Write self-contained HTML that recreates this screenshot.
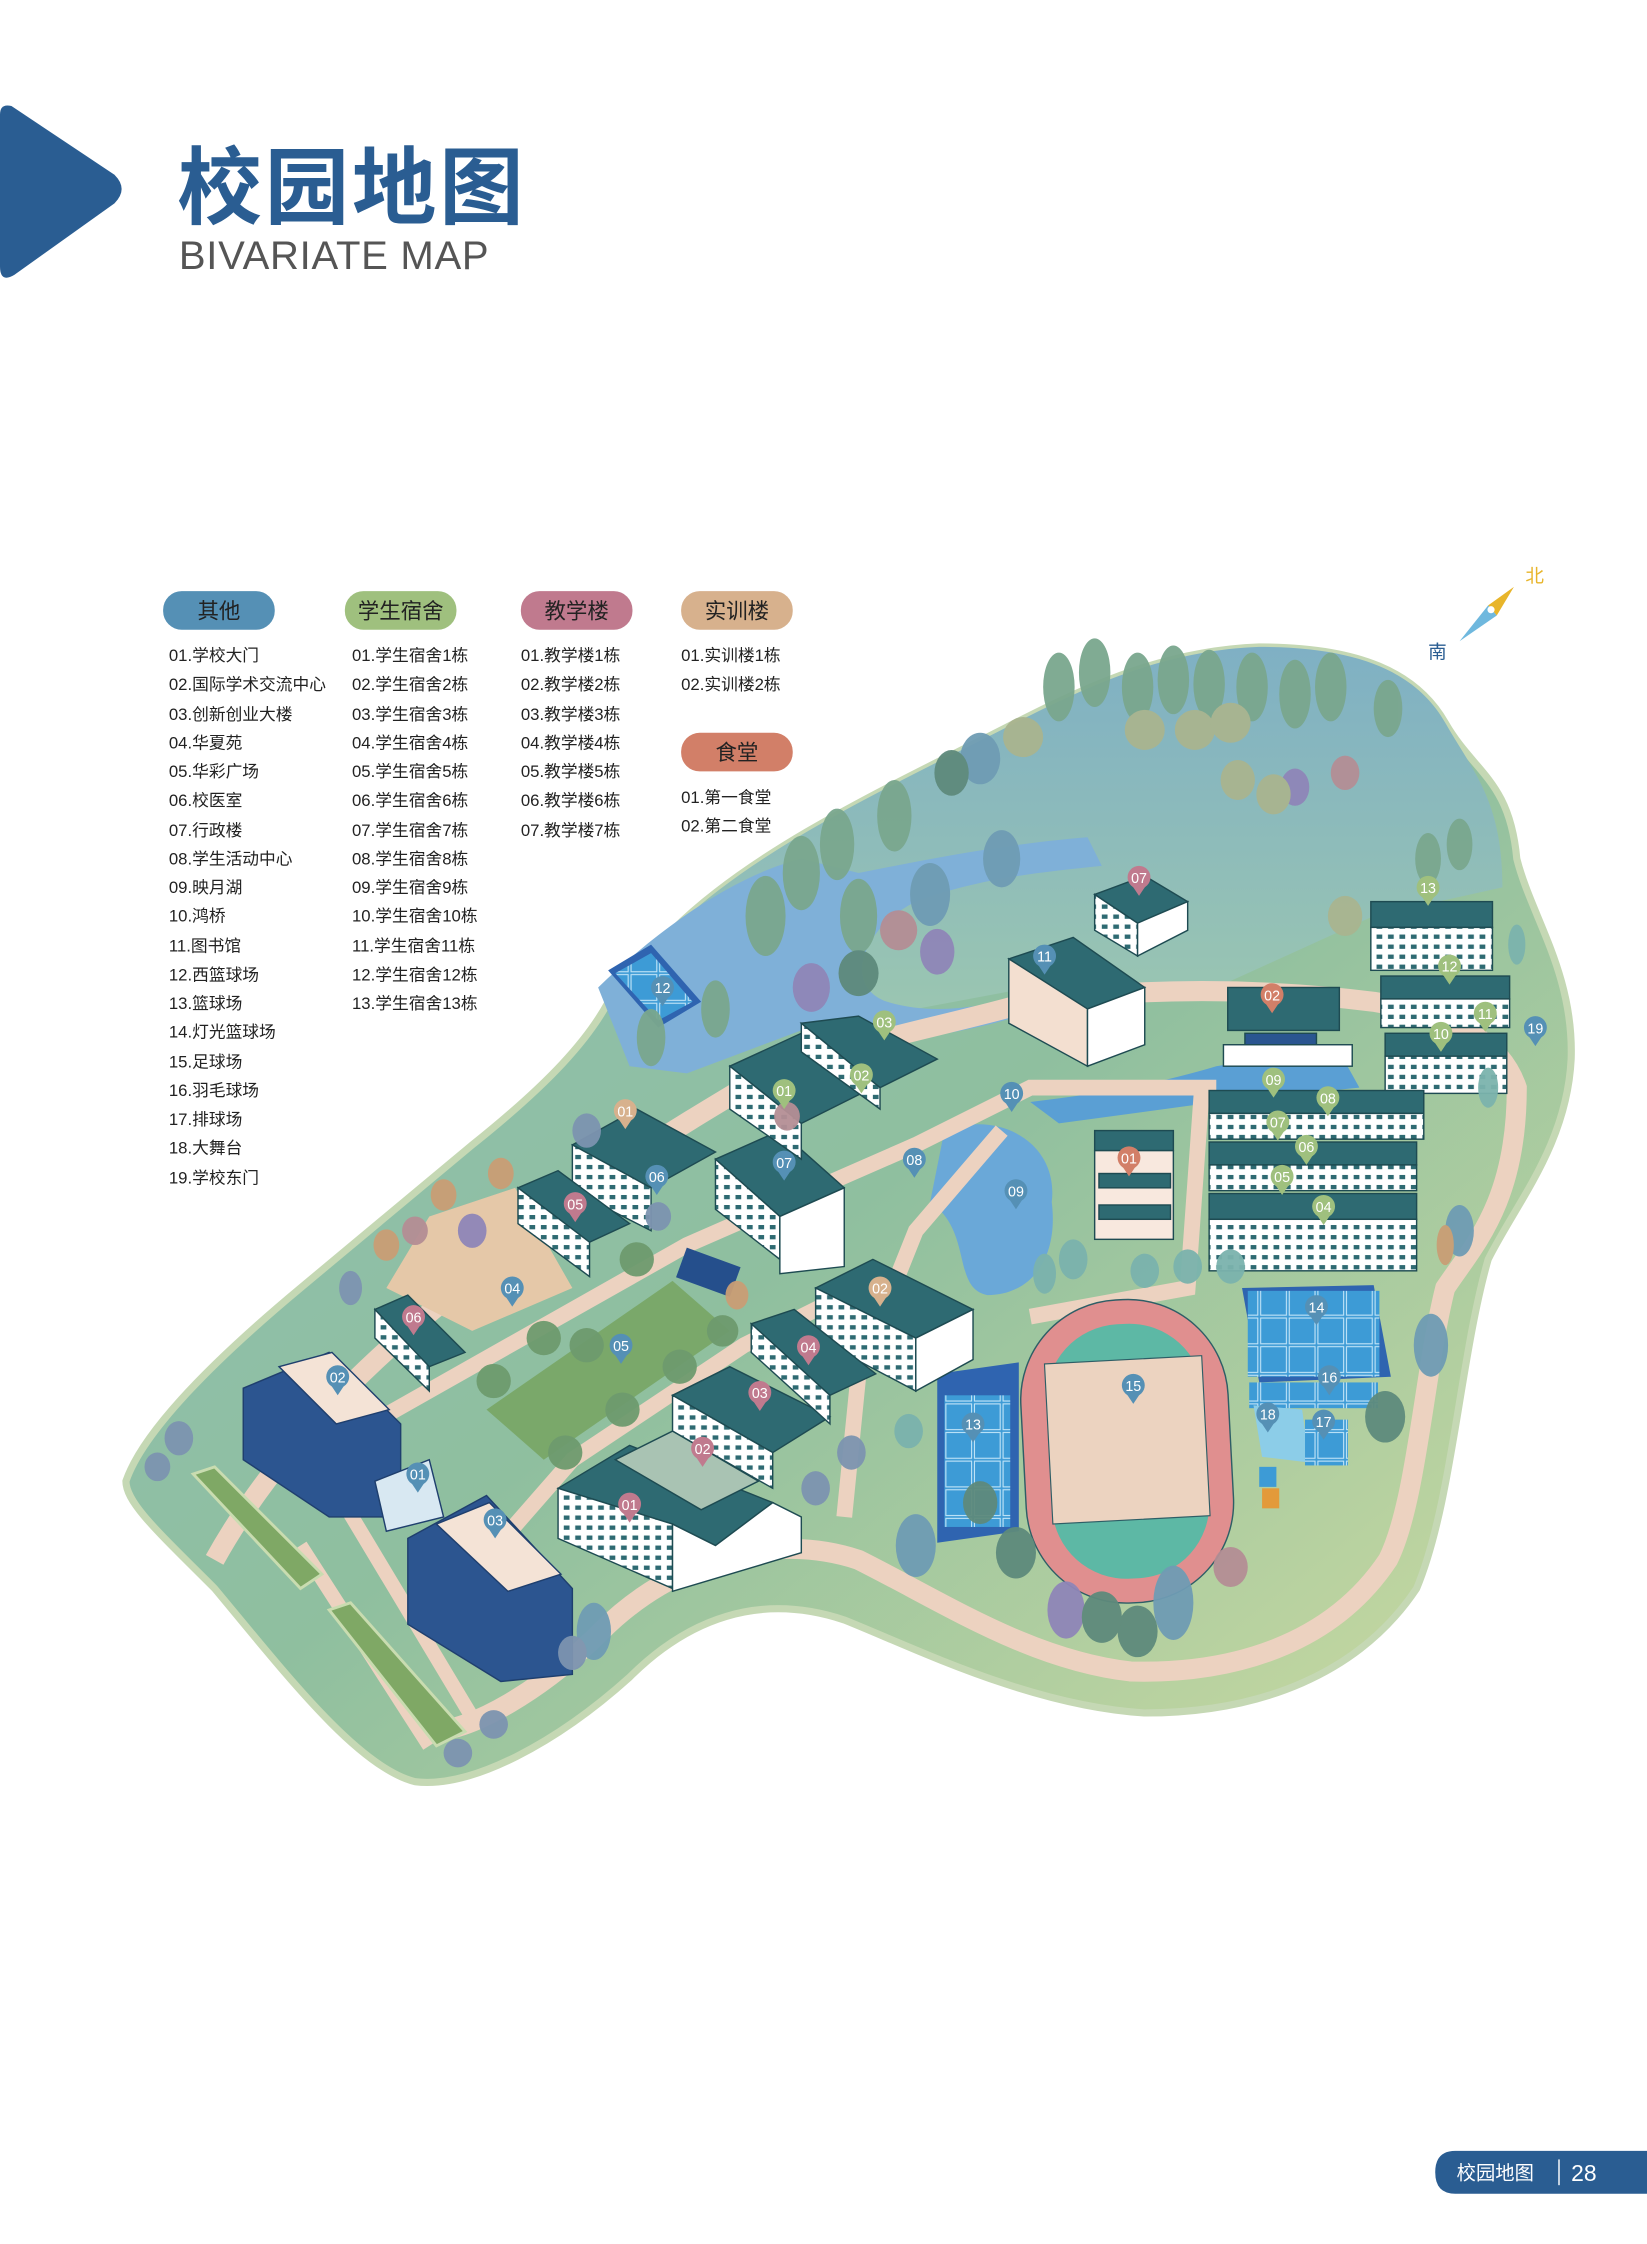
<!DOCTYPE html>
<html><head><meta charset="utf-8"><style>
html,body{margin:0;padding:0;background:#fff;}
svg{display:block}
text{font-family:"Liberation Sans","Noto Sans CJK SC",sans-serif;}
</style></head><body>
<svg width="1647" height="2244" viewBox="0 0 1151 1568" xmlns="http://www.w3.org/2000/svg">
<defs>
<linearGradient id="land" x1="0" y1="0" x2="1" y2="1">
<stop offset="0" stop-color="#8fbfb6"/><stop offset="0.5" stop-color="#8fbf9f"/><stop offset="1" stop-color="#cfdca0"/></linearGradient>
<linearGradient id="land2" x1="0" y1="0" x2="0" y2="1">
<stop offset="0" stop-color="#7fb0c4"/><stop offset="1" stop-color="#9cc7b0"/></linearGradient>
<pattern id="win" width="8" height="7" patternUnits="userSpaceOnUse"><rect width="8" height="7" fill="#fff"/><rect x="2" y="2" width="4" height="3" fill="#2e6a72"/></pattern>
<pattern id="court" width="20" height="20" patternUnits="userSpaceOnUse"><rect width="20" height="20" fill="#3d9bd6"/><rect x="1" y="1" width="18" height="18" fill="none" stroke="#bfe3f7" stroke-width="0.8"/></pattern>
</defs>
<!-- title -->
<path d="M0,80 Q0,72 8,74 L80,122 Q90,132 80,142 L10,192 Q0,198 0,186 Z" fill="#2a5d92"/>
<text x="124" y="152" font-size="59" font-weight="bold" fill="#2a5d92" font-family="'Noto Sans CJK SC',sans-serif" letter-spacing="2">校园地图</text>
<text x="125" y="188" font-size="28" fill="#555" letter-spacing="0.5">BIVARIATE MAP</text>

<!-- legend pills -->
<g font-size="15" text-anchor="middle" fill="#222">
<rect x="114" y="413" width="78" height="27" rx="13" fill="#5590b5"/><text x="153" y="432">其他</text>
<rect x="241" y="413" width="78" height="27" rx="13" fill="#9fc07e"/><text x="280" y="432">学生宿舍</text>
<rect x="364" y="413" width="78" height="27" rx="13" fill="#c07a8e"/><text x="403" y="432">教学楼</text>
<rect x="476" y="413" width="78" height="27" rx="13" fill="#d7b18d"/><text x="515" y="432">实训楼</text>
<rect x="476" y="512" width="78" height="27" rx="13" fill="#d27f68"/><text x="515" y="531">食堂</text>
</g>
<g font-size="11.7" fill="#222">
<text x="118" y="462">01.学校大门</text><text x="118" y="482">02.国际学术交流中心</text><text x="118" y="503">03.创新创业大楼</text><text x="118" y="523">04.华夏苑</text><text x="118" y="543">05.华彩广场</text><text x="118" y="563">06.校医室</text><text x="118" y="584">07.行政楼</text><text x="118" y="604">08.学生活动中心</text><text x="118" y="624">09.映月湖</text><text x="118" y="644">10.鸿桥</text><text x="118" y="665">11.图书馆</text><text x="118" y="685">12.西篮球场</text><text x="118" y="705">13.篮球场</text><text x="118" y="725">14.灯光篮球场</text><text x="118" y="746">15.足球场</text><text x="118" y="766">16.羽毛球场</text><text x="118" y="786">17.排球场</text><text x="118" y="806">18.大舞台</text><text x="118" y="827">19.学校东门</text>
<text x="246" y="462">01.学生宿舍1栋</text><text x="246" y="482">02.学生宿舍2栋</text><text x="246" y="503">03.学生宿舍3栋</text><text x="246" y="523">04.学生宿舍4栋</text><text x="246" y="543">05.学生宿舍5栋</text><text x="246" y="563">06.学生宿舍6栋</text><text x="246" y="584">07.学生宿舍7栋</text><text x="246" y="604">08.学生宿舍8栋</text><text x="246" y="624">09.学生宿舍9栋</text><text x="246" y="644">10.学生宿舍10栋</text><text x="246" y="665">11.学生宿舍11栋</text><text x="246" y="685">12.学生宿舍12栋</text><text x="246" y="705">13.学生宿舍13栋</text>
<text x="364" y="462">01.教学楼1栋</text><text x="364" y="482">02.教学楼2栋</text><text x="364" y="503">03.教学楼3栋</text><text x="364" y="523">04.教学楼4栋</text><text x="364" y="543">05.教学楼5栋</text><text x="364" y="563">06.教学楼6栋</text><text x="364" y="584">07.教学楼7栋</text>
<text x="476" y="462">01.实训楼1栋</text><text x="476" y="482">02.实训楼2栋</text>
<text x="476" y="561">01.第一食堂</text><text x="476" y="581">02.第二食堂</text>
</g>

<!-- compass -->
<polygon points="1058,410 1040,423 1046,430" fill="#e8b52a"/>
<polygon points="1040,423 1046,430 1020,448" fill="#6fb8de"/>
<circle cx="1042" cy="426" r="2.5" fill="#fff"/>
<text x="1066" y="407" font-size="13" fill="#e8b52a">北</text>
<text x="998" y="460" font-size="13" fill="#2a5d92">南</text>

<!-- land -->
<path d="M88,1035 C100,1000 150,950 210,900 L330,800 C380,760 415,725 430,690 L470,650 C520,600 600,560 680,520 C740,490 800,455 880,452 C950,452 990,470 1010,505 C1030,540 1055,545 1060,600 C1070,640 1100,680 1098,740 C1095,800 1060,840 1040,880 C1020,950 1015,1050 990,1110 C950,1170 880,1197 800,1197 C720,1192 640,1152 590,1132 C530,1112 480,1132 440,1172 C390,1217 330,1250 290,1245 C250,1235 200,1170 150,1110 C110,1070 88,1050 88,1035 Z" fill="url(#land)" stroke="#c5d8b4" stroke-width="5"/>
<!-- forest area -->
<path d="M430,690 L470,650 C520,600 600,560 680,520 C740,490 800,455 880,452 C950,452 990,470 1010,505 C1030,540 1050,560 1050,620 L960,640 L850,690 L720,690 L560,720 Z" fill="url(#land2)"/>
<!-- water -->
<path d="M418,690 C470,640 520,610 560,600 L600,610 C650,600 700,590 760,585 L770,605 C720,610 680,615 640,630 C600,650 590,690 620,700 C660,712 700,700 740,690 L740,700 C690,720 620,735 560,720 L480,750 L440,745 Z" fill="#7fb0d8"/>
<path d="M720,770 C760,765 800,760 850,745 L880,740 L940,742 L950,760 L850,770 L740,785 Z" fill="#5a9fd4"/>
<path d="M660,790 C700,775 740,800 735,840 C740,880 720,905 690,905 C665,900 680,860 650,840 Z" fill="#6aa8d8"/>
<!-- roads -->
<path d="M150,1090 C200,1000 280,930 360,870 C420,820 470,790 520,760 C580,730 650,720 720,700 C800,690 880,690 960,700 C1020,710 1050,730 1060,760 C1060,840 1030,870 1010,900 C995,960 990,1050 970,1090 C930,1150 860,1170 790,1168 C720,1160 660,1120 600,1090 C540,1070 470,1090 420,1140 C380,1180 330,1210 300,1210" fill="none" stroke="#ecd2c0" stroke-width="14"/>
<path d="M250,1000 L480,870 L640,800 L720,760 L850,760 M700,790 L640,860 L600,960 L590,1060 M840,760 L830,900 L720,920 M330,1100 L400,1020 L520,940 L600,900" fill="none" stroke="#ecd2c0" stroke-width="11"/>
<path d="M210,1080 L300,1220 M240,1050 L330,1200" stroke="#ecd2c0" stroke-width="10"/>
<polygon points="135,1030 150,1025 225,1100 210,1110" fill="#7fa865" stroke="#c9dcb0" stroke-width="2"/>
<polygon points="230,1125 245,1120 325,1210 305,1220" fill="#7fa865" stroke="#c9dcb0" stroke-width="2"/>
<!-- plaza green -->
<polygon points="340,985 470,895 510,930 380,1020" fill="#7aa86a"/>
<polygon points="300,850 360,830 400,900 330,930 270,900" fill="#e5c8a8"/>

<!-- track -->
<g transform="rotate(-3 790 1010)">
<rect x="715" y="908" width="145" height="212" rx="70" fill="#e08f8f" stroke="#2e5e66" stroke-width="1"/>
<rect x="733" y="925" width="110" height="178" rx="52" fill="#5db8a5"/>
<rect x="733" y="950" width="110" height="112" fill="#ecd3c0" stroke="#2e5e66" stroke-width="0.8"/>
</g>
<!-- courts -->
<polygon points="655,960 712,952 712,1070 655,1078" fill="#2f64b0"/>
<rect x="660" y="975" width="46" height="92" fill="url(#court)"/>
<polygon points="868,900 960,898 972,962 880,966" fill="#2f64b0"/>
<rect x="872" y="902" width="92" height="60" fill="url(#court)"/>
<rect x="873" y="966" width="90" height="18" fill="url(#court)"/>
<polygon points="876,982 910,985 915,1022 882,1018" fill="#8ccde8"/>
<rect x="912" y="992" width="30" height="32" fill="url(#court)"/>
<rect x="880" y="1025" width="12" height="14" fill="#3d9bd6"/><rect x="882" y="1040" width="12" height="14" fill="#e39a3a"/>
<polygon points="425,678 455,660 490,700 460,718" fill="#2f64b0"/><polygon points="430,680 455,666 484,700 460,713" fill="url(#court)"/>
<rect x="475" y="878" width="40" height="22" fill="#254f8c" transform="rotate(20 495 889)"/>

<!-- buildings: big blue left -->
<g stroke="#1f3f6e" stroke-width="1">
<polygon points="170,970 230,945 280,995 280,1060 230,1060 170,1020" fill="#2c5590"/>
<polygon points="195,955 232,945 272,985 235,995" fill="#f4e3d6"/>
<polygon points="285,1075 340,1045 400,1110 400,1170 350,1175 285,1135" fill="#2c5590"/>
<polygon points="305,1065 342,1050 392,1100 355,1112" fill="#f4e3d6"/>
<polygon points="262,1035 300,1020 310,1060 270,1070" fill="#d8e8f2"/>
</g>
<!-- generic teal buildings -->
<g stroke="#1e4b52" stroke-width="1">
<polygon points="705,670 750,655 800,690 760,705" fill="#2e6a72"/>
<polygon points="705,670 760,705 760,745 705,715" fill="#f3dfd0"/>
<polygon points="760,705 800,690 800,730 760,745" fill="#fff"/>
<polygon points="765,625 800,612 830,630 795,645" fill="#2e6a72"/>
<polygon points="765,625 795,645 795,668 765,650" fill="url(#win)"/>
<polygon points="795,645 830,630 830,650 795,668" fill="#fff"/>
<rect x="958" y="630" width="85" height="18" fill="#2e6a72"/><rect x="958" y="648" width="85" height="30" fill="url(#win)"/>
<rect x="965" y="682" width="90" height="16" fill="#2e6a72"/><rect x="965" y="698" width="90" height="20" fill="url(#win)"/>
<rect x="968" y="722" width="85" height="16" fill="#2e6a72"/><rect x="968" y="738" width="85" height="26" fill="url(#win)"/>
<rect x="858" y="690" width="78" height="30" fill="#2e6a72"/><rect x="870" y="722" width="50" height="8" fill="#2a5590"/><rect x="855" y="730" width="90" height="15" fill="#fff"/>
<rect x="845" y="762" width="150" height="16" fill="#2e6a72"/><rect x="845" y="778" width="150" height="18" fill="url(#win)"/>
<rect x="845" y="798" width="145" height="16" fill="#2e6a72"/><rect x="845" y="814" width="145" height="18" fill="url(#win)"/>
<rect x="845" y="834" width="145" height="18" fill="#2e6a72"/><rect x="845" y="852" width="145" height="36" fill="url(#win)"/>
<rect x="765" y="790" width="55" height="14" fill="#2e6a72"/><rect x="765" y="804" width="55" height="62" fill="#f8e8de"/><rect x="768" y="820" width="50" height="10" fill="#2e6a72"/><rect x="768" y="842" width="50" height="10" fill="#2e6a72"/>
<polygon points="400,800 445,775 500,805 455,830" fill="#2e6a72"/>
<polygon points="400,800 455,830 455,860 400,832" fill="url(#win)"/>
<polygon points="500,810 545,790 590,830 545,850" fill="#2e6a72"/>
<polygon points="500,810 545,850 545,880 500,845" fill="url(#win)"/>
<polygon points="545,850 590,830 590,885 545,890" fill="#fff"/>
<polygon points="510,745 560,722 610,760 560,785" fill="#2e6a72"/>
<polygon points="510,745 560,785 560,810 510,775" fill="url(#win)"/>
<polygon points="560,715 600,710 655,740 615,760" fill="#2e6a72"/>
<polygon points="560,715 615,760 615,775 560,735" fill="url(#win)"/>
<polygon points="362,830 390,818 440,855 412,868" fill="#2e6a72"/>
<polygon points="362,830 412,868 412,892 362,855" fill="url(#win)"/>
<polygon points="262,915 285,905 325,945 300,955" fill="#2e6a72"/><polygon points="262,915 300,955 300,972 262,935" fill="url(#win)"/>
<polygon points="570,900 610,880 680,915 640,935" fill="#2e6a72"/>
<polygon points="570,900 640,935 640,972 570,935" fill="url(#win)"/>
<polygon points="640,935 680,915 680,950 640,972" fill="#fff"/>
<polygon points="390,1040 440,1010 540,1050 500,1080 470,1065" fill="#2e6a72"/>
<polygon points="390,1040 470,1065 470,1110 390,1075" fill="url(#win)"/>
<polygon points="470,1065 500,1080 540,1050 560,1060 560,1085 470,1112" fill="#fff"/>
<polygon points="470,975 510,955 580,990 540,1015" fill="#2e6a72"/>
<polygon points="470,975 540,1015 540,1040 470,1000" fill="url(#win)"/>
<polygon points="525,925 555,915 612,960 580,975" fill="#2e6a72"/>
<polygon points="525,925 580,975 580,995 525,945" fill="url(#win)"/>
<polygon points="430,1020 470,1000 530,1035 490,1055" fill="#a9c3b3"/>
</g>
<!-- trees -->
<g opacity="0.95">
<g fill="#7aa78e"><ellipse cx="535" cy="640" rx="14" ry="28"/><ellipse cx="560" cy="610" rx="13" ry="26"/><ellipse cx="600" cy="640" rx="13" ry="26"/><ellipse cx="585" cy="590" rx="12" ry="25"/><ellipse cx="625" cy="570" rx="12" ry="25"/><ellipse cx="740" cy="480" rx="11" ry="24"/><ellipse cx="765" cy="470" rx="11" ry="24"/><ellipse cx="795" cy="480" rx="11" ry="24"/><ellipse cx="820" cy="475" rx="11" ry="24"/><ellipse cx="845" cy="478" rx="11" ry="24"/><ellipse cx="875" cy="480" rx="11" ry="24"/><ellipse cx="905" cy="485" rx="11" ry="24"/><ellipse cx="930" cy="480" rx="11" ry="24"/><ellipse cx="500" cy="705" rx="10" ry="20"/><ellipse cx="455" cy="725" rx="10" ry="20"/><ellipse cx="970" cy="495" rx="10" ry="20"/><ellipse cx="998" cy="600" rx="9" ry="18"/><ellipse cx="1020" cy="590" rx="9" ry="18"/></g>
<g fill="#6f9cb4"><ellipse cx="650" cy="625" rx="14" ry="22"/><ellipse cx="700" cy="600" rx="13" ry="20"/><ellipse cx="685" cy="530" rx="14" ry="18"/><ellipse cx="640" cy="1080" rx="14" ry="22"/><ellipse cx="820" cy="1120" rx="14" ry="26"/><ellipse cx="415" cy="1140" rx="12" ry="20"/><ellipse cx="1000" cy="940" rx="12" ry="22"/><ellipse cx="1020" cy="860" rx="10" ry="18"/></g>
<g fill="#8f86b8"><ellipse cx="567" cy="690" rx="13" ry="17"/><ellipse cx="655" cy="665" rx="12" ry="16"/><ellipse cx="745" cy="1125" rx="13" ry="20"/><ellipse cx="905" cy="550" rx="10" ry="13"/><ellipse cx="330" cy="860" rx="10" ry="12"/></g>
<g fill="#b48e95"><ellipse cx="628" cy="650" rx="13" ry="14"/><ellipse cx="940" cy="540" rx="10" ry="12"/><ellipse cx="860" cy="1095" rx="12" ry="14"/><ellipse cx="550" cy="780" rx="9" ry="10"/><ellipse cx="290" cy="860" rx="9" ry="10"/></g>
<g fill="#5e8a7c"><ellipse cx="600" cy="680" rx="14" ry="16"/><ellipse cx="665" cy="540" rx="12" ry="16"/><ellipse cx="710" cy="1085" rx="14" ry="18"/><ellipse cx="795" cy="1140" rx="14" ry="18"/><ellipse cx="770" cy="1130" rx="14" ry="18"/><ellipse cx="968" cy="990" rx="14" ry="18"/><ellipse cx="685" cy="1050" rx="12" ry="15"/></g>
<g fill="#a9b48f"><ellipse cx="715" cy="515" rx="14" ry="14"/><ellipse cx="800" cy="510" rx="14" ry="14"/><ellipse cx="835" cy="510" rx="14" ry="14"/><ellipse cx="860" cy="505" rx="14" ry="14"/><ellipse cx="890" cy="555" rx="12" ry="14"/><ellipse cx="865" cy="545" rx="12" ry="14"/><ellipse cx="940" cy="640" rx="12" ry="14"/></g>
<g fill="#c99e75"><ellipse cx="310" cy="835" rx="9" ry="11"/><ellipse cx="270" cy="870" rx="9" ry="11"/><ellipse cx="350" cy="820" rx="9" ry="11"/><ellipse cx="1010" cy="870" rx="6" ry="14"/><ellipse cx="515" cy="905" rx="8" ry="10"/></g>
<g fill="#6e9b6e"><ellipse cx="410" cy="940" rx="12" ry="12"/><ellipse cx="380" cy="935" rx="12" ry="12"/><ellipse cx="345" cy="965" rx="12" ry="12"/><ellipse cx="445" cy="880" rx="12" ry="12"/><ellipse cx="475" cy="955" rx="12" ry="12"/><ellipse cx="435" cy="985" rx="12" ry="12"/><ellipse cx="395" cy="1015" rx="12" ry="12"/><ellipse cx="505" cy="930" rx="11" ry="11"/></g>
<g fill="#7d94b0"><ellipse cx="125" cy="1005" rx="10" ry="12"/><ellipse cx="110" cy="1025" rx="9" ry="10"/><ellipse cx="320" cy="1225" rx="10" ry="10"/><ellipse cx="345" cy="1205" rx="10" ry="10"/><ellipse cx="400" cy="1155" rx="10" ry="12"/><ellipse cx="570" cy="1040" rx="10" ry="12"/><ellipse cx="595" cy="1015" rx="10" ry="12"/><ellipse cx="410" cy="790" rx="10" ry="12"/><ellipse cx="460" cy="850" rx="9" ry="10"/><ellipse cx="245" cy="900" rx="8" ry="12"/></g>
<g fill="#7bb3ad"><ellipse cx="830" cy="885" rx="10" ry="12"/><ellipse cx="800" cy="888" rx="10" ry="12"/><ellipse cx="860" cy="885" rx="10" ry="12"/><ellipse cx="750" cy="880" rx="10" ry="14"/><ellipse cx="730" cy="890" rx="8" ry="14"/><ellipse cx="635" cy="1000" rx="10" ry="12"/><ellipse cx="1060" cy="660" rx="6" ry="14"/><ellipse cx="1040" cy="760" rx="7" ry="14"/></g>
</g>

<!-- markers -->
<g font-family="'Liberation Serif',serif" font-size="10" text-anchor="middle">
<g fill="#5590b5">
<circle cx="463" cy="690" r="8"/><polygon points="457,694 469,694 463,703"/>
<circle cx="730" cy="668" r="8"/><polygon points="724,672 736,672 730,681"/>
<circle cx="707" cy="764" r="8"/><polygon points="701,768 713,768 707,777"/>
<circle cx="710" cy="832" r="8"/><polygon points="704,836 716,836 710,845"/>
<circle cx="639" cy="810" r="8"/><polygon points="633,814 645,814 639,823"/>
<circle cx="548" cy="812" r="8"/><polygon points="542,816 554,816 548,825"/>
<circle cx="459" cy="822" r="8"/><polygon points="453,826 465,826 459,835"/>
<circle cx="358" cy="900" r="8"/><polygon points="352,904 364,904 358,913"/>
<circle cx="434" cy="940" r="8"/><polygon points="428,944 440,944 434,953"/>
<circle cx="236" cy="962" r="8"/><polygon points="230,966 242,966 236,975"/>
<circle cx="292" cy="1030" r="8"/><polygon points="286,1034 298,1034 292,1043"/>
<circle cx="346" cy="1062" r="8"/><polygon points="340,1066 352,1066 346,1075"/>
<circle cx="792" cy="968" r="8"/><polygon points="786,972 798,972 792,981"/>
<circle cx="680" cy="995" r="8"/><polygon points="674,999 686,999 680,1008"/>
<circle cx="920" cy="913" r="8"/><polygon points="914,917 926,917 920,926"/>
<circle cx="929" cy="962" r="8"/><polygon points="923,966 935,966 929,975"/>
<circle cx="925" cy="993" r="8"/><polygon points="919,997 931,997 925,1006"/>
<circle cx="886" cy="988" r="8"/><polygon points="880,992 892,992 886,1001"/>
<circle cx="1073" cy="718" r="8"/><polygon points="1067,722 1079,722 1073,731"/>
</g>
<g fill="#9fc07e">
<circle cx="548" cy="762" r="8"/><polygon points="542,766 554,766 548,775"/>
<circle cx="602" cy="751" r="8"/><polygon points="596,755 608,755 602,764"/>
<circle cx="618" cy="714" r="8"/><polygon points="612,718 624,718 618,727"/>
<circle cx="925" cy="843" r="8"/><polygon points="919,847 931,847 925,856"/>
<circle cx="896" cy="822" r="8"/><polygon points="890,826 902,826 896,835"/>
<circle cx="913" cy="801" r="8"/><polygon points="907,805 919,805 913,814"/>
<circle cx="893" cy="784" r="8"/><polygon points="887,788 899,788 893,797"/>
<circle cx="928" cy="767" r="8"/><polygon points="922,771 934,771 928,780"/>
<circle cx="890" cy="754" r="8"/><polygon points="884,758 896,758 890,767"/>
<circle cx="1007" cy="722" r="8"/><polygon points="1001,726 1013,726 1007,735"/>
<circle cx="1038" cy="708" r="8"/><polygon points="1032,712 1044,712 1038,721"/>
<circle cx="1013" cy="675" r="8"/><polygon points="1007,679 1019,679 1013,688"/>
<circle cx="998" cy="620" r="8"/><polygon points="992,624 1004,624 998,633"/>
</g>
<g fill="#c07a8e">
<circle cx="440" cy="1051" r="8"/><polygon points="434,1055 446,1055 440,1064"/>
<circle cx="491" cy="1012" r="8"/><polygon points="485,1016 497,1016 491,1025"/>
<circle cx="531" cy="973" r="8"/><polygon points="525,977 537,977 531,986"/>
<circle cx="565" cy="941" r="8"/><polygon points="559,945 571,945 565,954"/>
<circle cx="402" cy="841" r="8"/><polygon points="396,845 408,845 402,854"/>
<circle cx="289" cy="920" r="8"/><polygon points="283,924 295,924 289,933"/>
<circle cx="796" cy="613" r="8"/><polygon points="790,617 802,617 796,626"/>
</g>
<g fill="#d7b18d">
<circle cx="437" cy="776" r="8"/><polygon points="431,780 443,780 437,789"/>
<circle cx="615" cy="900" r="8"/><polygon points="609,904 621,904 615,913"/>
</g>
<g fill="#d27f68">
<circle cx="789" cy="809" r="8"/><polygon points="783,813 795,813 789,822"/>
<circle cx="889" cy="695" r="8"/><polygon points="883,699 895,699 889,708"/>
</g>
<g fill="#fff">
<text x="463" y="694">12</text><text x="730" y="672">11</text><text x="707" y="768">10</text><text x="710" y="836">09</text><text x="639" y="814">08</text><text x="548" y="816">07</text><text x="459" y="826">06</text><text x="358" y="904">04</text><text x="434" y="944">05</text><text x="236" y="966">02</text><text x="292" y="1034">01</text><text x="346" y="1066">03</text><text x="792" y="972">15</text><text x="680" y="999">13</text><text x="920" y="917">14</text><text x="929" y="966">16</text><text x="925" y="997">17</text><text x="886" y="992">18</text><text x="1073" y="722">19</text>
<text x="548" y="766">01</text><text x="602" y="755">02</text><text x="618" y="718">03</text><text x="925" y="847">04</text><text x="896" y="826">05</text><text x="913" y="805">06</text><text x="893" y="788">07</text><text x="928" y="771">08</text><text x="890" y="758">09</text><text x="1007" y="726">10</text><text x="1038" y="712">11</text><text x="1013" y="679">12</text><text x="998" y="624">13</text>
<text x="440" y="1055">01</text><text x="491" y="1016">02</text><text x="531" y="977">03</text><text x="565" y="945">04</text><text x="402" y="845">05</text><text x="289" y="924">06</text><text x="796" y="617">07</text>
<text x="437" y="780">01</text><text x="615" y="904">02</text><text x="789" y="813">01</text><text x="889" y="699">02</text>
</g>
</g>

<!-- footer -->
<path d="M1017,1503 L1151,1503 L1151,1533 L1017,1533 Q1003,1533 1003,1518 Q1003,1503 1017,1503 Z" fill="#2a5d92"/>
<text x="1018" y="1523" font-size="13.5" fill="#fff">校园地图</text>
<rect x="1089" y="1509" width="1" height="18" fill="#fff"/>
<text x="1098" y="1524" font-size="16" fill="#fff">28</text>
</svg>
</body></html>
